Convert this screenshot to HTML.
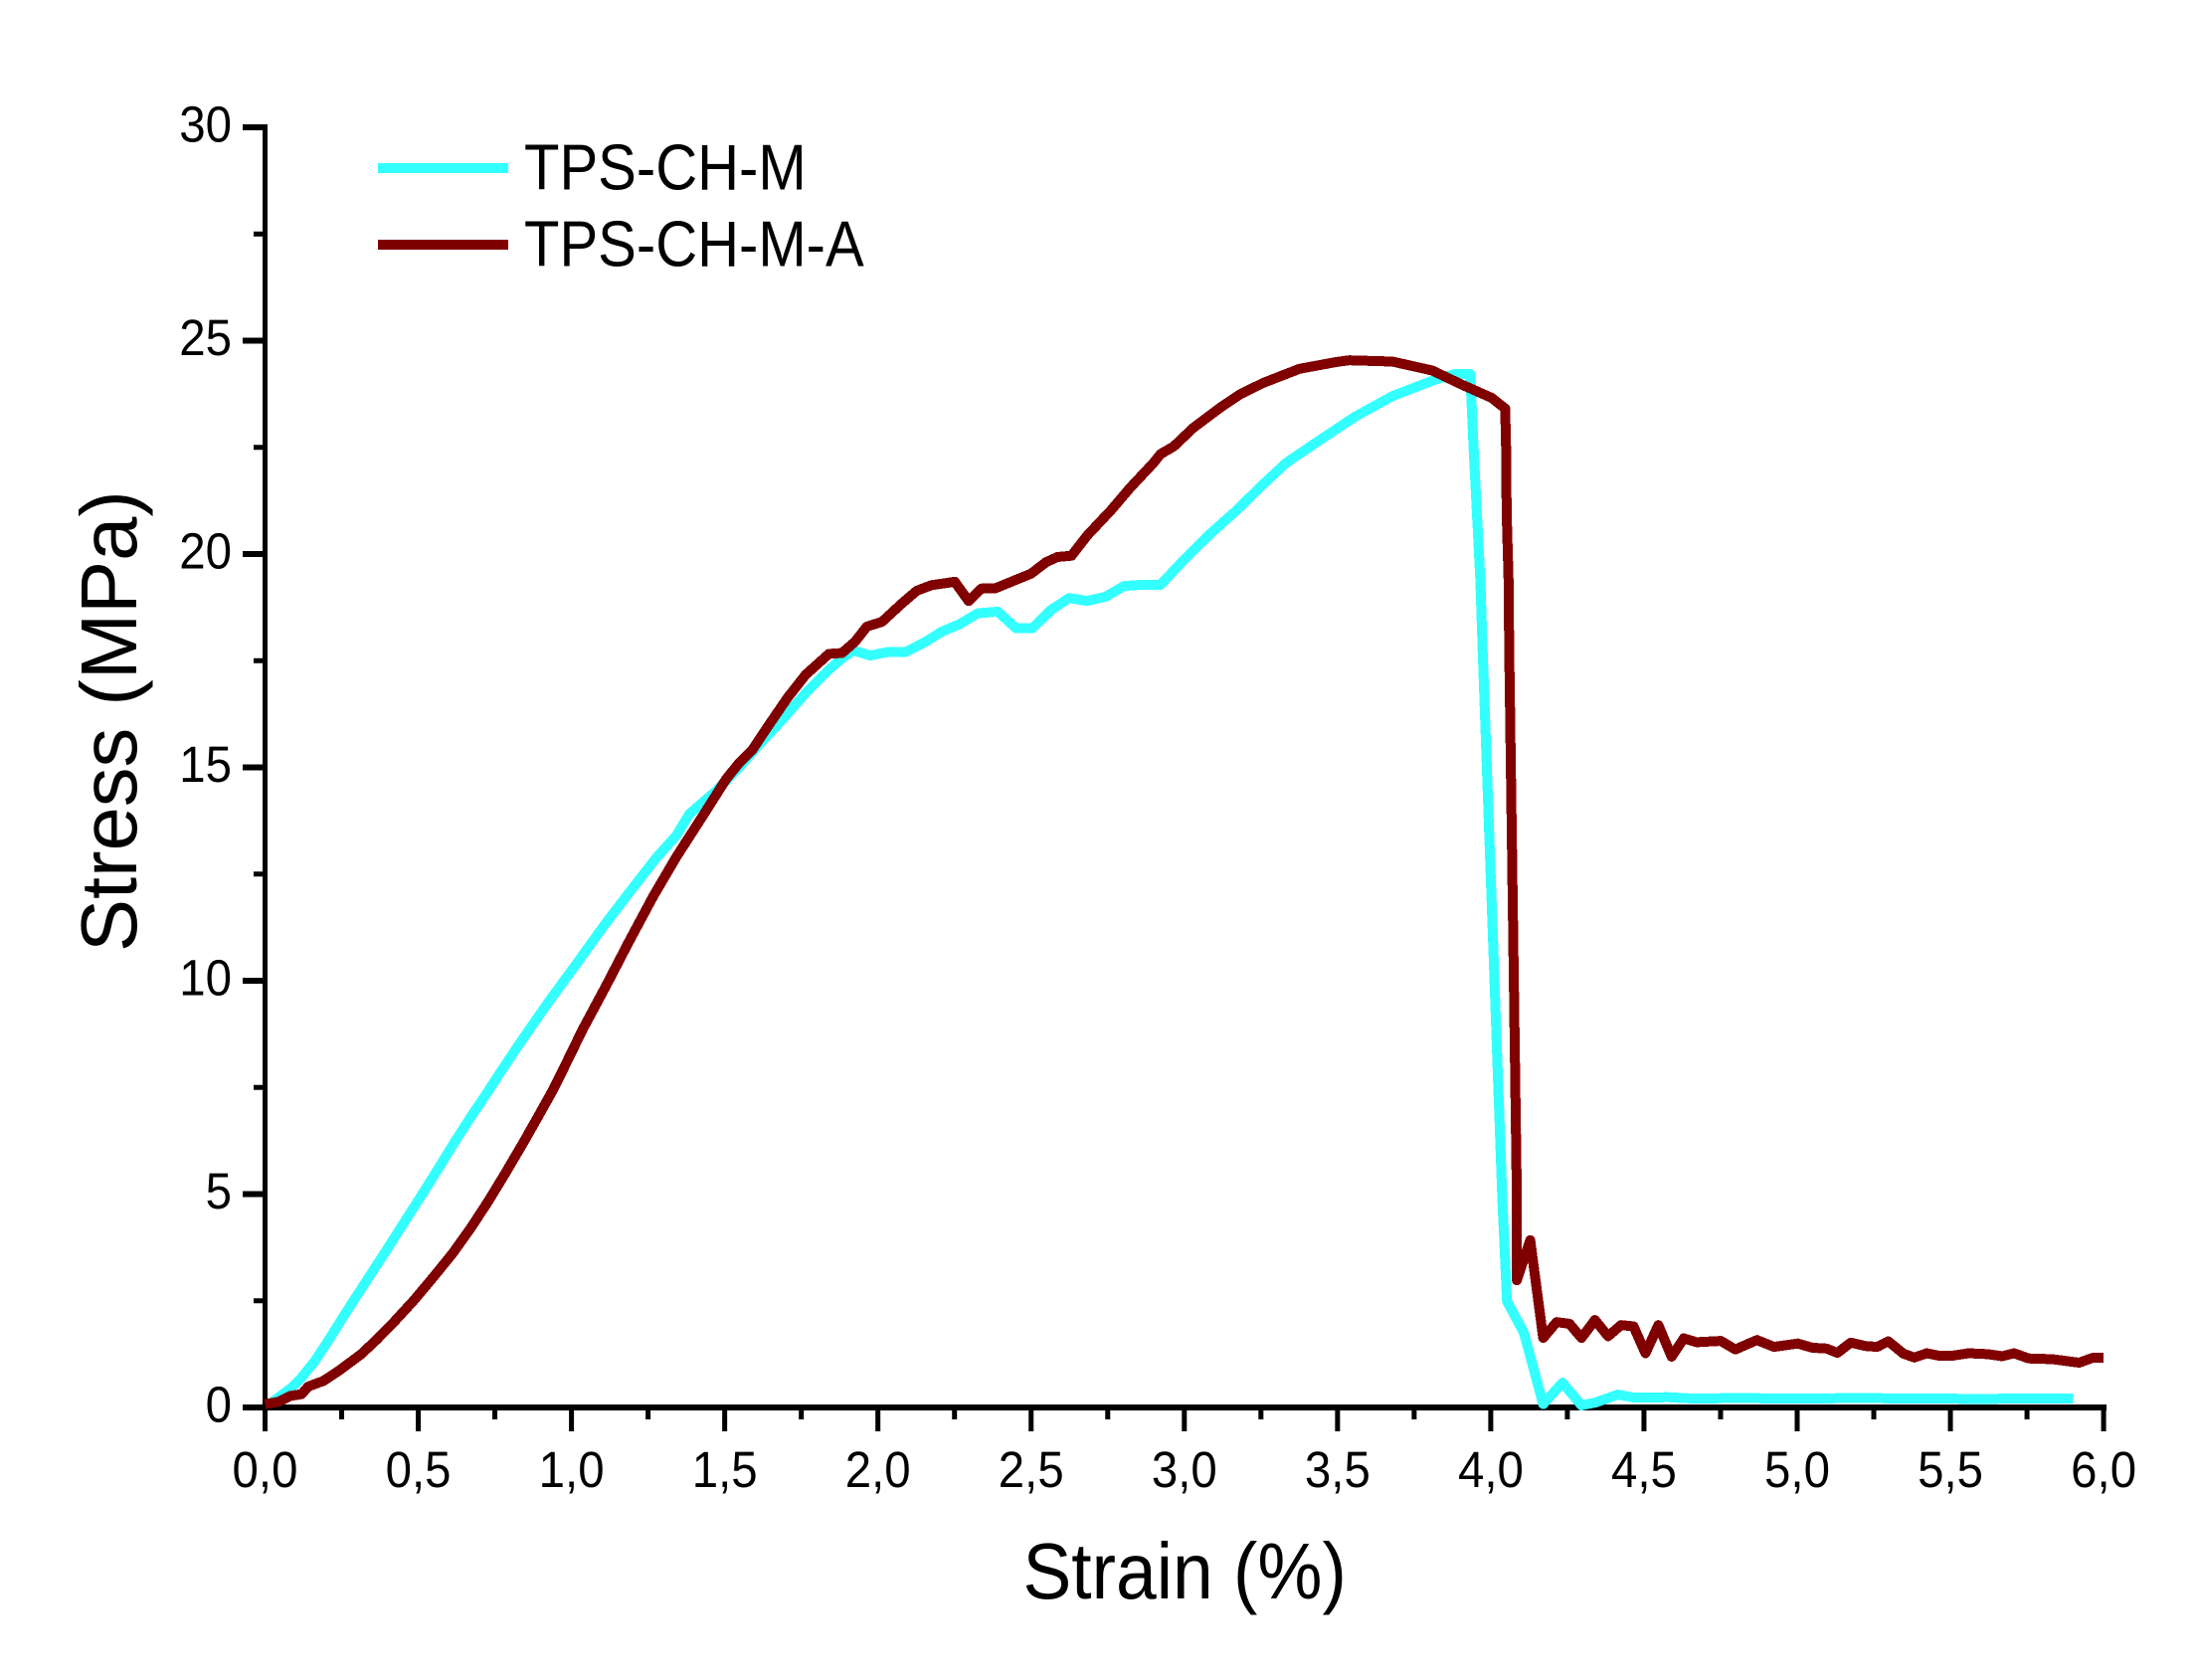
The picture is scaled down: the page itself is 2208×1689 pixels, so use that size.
<!DOCTYPE html>
<html lang="en">
<head>
<meta charset="utf-8">
<title>Stress-strain chart</title>
<style>
html,body{margin:0;padding:0;background:#fff;}
svg{display:block;}
text{font-family:"Liberation Sans",Arial,sans-serif;fill:#000;}
</style>
</head>
<body>
<svg id="chart" xmlns="http://www.w3.org/2000/svg" width="2208" height="1689" viewBox="0 0 2208 1689">
<rect x="0" y="0" width="2208" height="1689" fill="#ffffff"/>
<g id="axes"></g>
<g id="series"></g>
<text transform="translate(1028.5,1607) scale(0.915,1)" font-size="80">Strain (%)</text>
<text transform="translate(137,957) rotate(-90)" font-size="79.5">Stress (MPa)</text>
<g>
<g>
<rect x="380" y="164" width="131" height="10" fill="#33ffff"/>
<text transform="translate(527,190.5) scale(0.893,1)" font-size="65">TPS-CH-M</text>
</g>
<g>
<rect x="380" y="241" width="131" height="10" fill="#800000"/>
<text transform="translate(527,267.5) scale(0.893,1)" font-size="65">TPS-CH-M-A</text>
</g>
</g>
</svg>
<script>
const xMajorTicks = [0, 0.5, 1, 1.5, 2, 2.5, 3, 3.5, 4, 4.5, 5, 5.5, 6];
const xTickLabels = ["0,0","0,5","1,0","1,5","2,0","2,5","3,0","3,5","4,0","4,5","5,0","5,5","6,0"];
const xMinorTicks = [0.25, 0.75, 1.25, 1.75, 2.25, 2.75, 3.25, 3.75, 4.25, 4.75, 5.25, 5.75];
const yMajorTicks = [0, 5, 10, 15, 20, 25, 30];
const yTickLabels = ["0","5","10","15","20","25","30"];
const yMinorTicks = [2.5, 7.5, 12.5, 17.5, 22.5, 27.5];

const cyanStrain = [0.022,0.087,0.119,0.163,0.212,0.26,0.303,0.352,0.401,0.455,0.509,0.563,0.617,0.671,0.725,0.774,0.833,0.893,0.931,1.018,1.104,1.19,1.277,1.342,1.385,1.472,1.542,1.613,1.688,1.764,1.84,1.883,1.921,1.975,2.029,2.089,2.153,2.208,2.267,2.326,2.391,2.451,2.505,2.565,2.624,2.683,2.743,2.803,2.862,2.922,2.997,3.084,3.17,3.246,3.333,3.43,3.56,3.679,3.82,3.885,3.933,3.944,3.955,3.966,3.973,3.995,4.037,4.053,4.108,4.171,4.234,4.296,4.343,4.414,4.469,4.578,4.656,4.8,5.0,5.2,5.4,5.6,5.75,5.9];
const cyanStress = [0.117,0.466,0.70,1.09,1.63,2.18,2.66,3.2,3.74,4.35,4.95,5.57,6.2,6.8,7.38,7.92,8.55,9.17,9.56,10.41,11.27,12.08,12.88,13.4,13.91,14.45,14.96,15.54,16.12,16.74,17.29,17.56,17.74,17.62,17.70,17.70,17.93,18.18,18.36,18.61,18.65,18.26,18.26,18.69,18.97,18.90,19.0,19.25,19.28,19.28,19.85,20.47,21.02,21.56,22.14,22.61,23.23,23.70,24.09,24.22,24.22,22.49,20.94,19.39,17.83,13.4,5.01,2.49,1.75,0.08,0.58,0.05,0.12,0.3,0.23,0.24,0.21,0.22,0.21,0.22,0.21,0.2,0.21,0.21];

const maroonStrain = [0,0.044,0.082,0.119,0.141,0.19,0.239,0.314,0.363,0.423,0.487,0.552,0.612,0.671,0.731,0.785,0.844,0.893,0.942,0.985,1.036,1.115,1.185,1.266,1.342,1.429,1.504,1.548,1.591,1.645,1.705,1.764,1.84,1.883,1.926,1.964,2.013,2.078,2.127,2.175,2.251,2.296,2.338,2.381,2.435,2.5,2.549,2.586,2.632,2.684,2.76,2.824,2.9,2.922,2.965,3.03,3.117,3.181,3.257,3.376,3.495,3.538,3.679,3.809,3.906,4.003,4.047,4.05,4.052,4.058,4.06,4.085,4.085,4.129,4.171,4.215,4.257,4.296,4.34,4.383,4.425,4.466,4.505,4.547,4.59,4.63,4.672,4.751,4.798,4.869,4.924,5.002,5.049,5.096,5.131,5.175,5.222,5.261,5.297,5.347,5.382,5.423,5.465,5.504,5.559,5.622,5.669,5.708,5.755,5.834,5.92,5.967,6.0];
const maroonStress = [0.08,0.13,0.27,0.31,0.49,0.62,0.85,1.25,1.58,2.02,2.52,3.08,3.61,4.2,4.86,5.5,6.22,6.84,7.47,8.1,8.85,9.91,10.88,11.97,12.9,13.87,14.72,15.11,15.42,16.0,16.63,17.17,17.66,17.68,17.95,18.3,18.41,18.84,19.14,19.27,19.35,18.9,19.19,19.19,19.35,19.54,19.81,19.93,19.96,20.44,21.02,21.56,22.14,22.34,22.52,22.96,23.43,23.74,24.01,24.34,24.5,24.54,24.51,24.30,23.97,23.66,23.41,22.49,20.94,19.39,17.83,5.01,2.98,3.92,1.63,2.0,1.96,1.63,2.05,1.67,1.93,1.9,1.27,1.93,1.19,1.62,1.53,1.56,1.36,1.58,1.42,1.5,1.4,1.38,1.28,1.52,1.44,1.42,1.55,1.26,1.17,1.27,1.21,1.21,1.27,1.25,1.2,1.27,1.15,1.13,1.05,1.17,1.17];

const NS = 'http://www.w3.org/2000/svg';
function xScale(v){ return 266.5 + 308.1 * v; }
function yScale(v){ return 1415 - 42.9 * v; }
const axes = document.getElementById('axes');
const series = document.getElementById('series');

function make(tag, parent, attrs){
  const el = document.createElementNS(NS, tag);
  for (const k in attrs) el.setAttribute(k, attrs[k]);
  parent.appendChild(el);
  return el;
}

const yAxisLine = make('rect', axes, {x: xScale(0)-2.5, y: yScale(30)-3, width: 5, height: yScale(0)-yScale(30)+6, fill:'#000'});


const xAxisLine = make('rect', axes, {x: xScale(0)-22, y: yScale(0)-3, width: xScale(6)-xScale(0)+25, height: 6, fill:'#000'});



xMajorTicks.forEach(function(v, i){
  const t = make('rect', axes, {x: xScale(v)-2.5, y: yScale(0), width: 5, height: 24, fill:'#000'});
  
  
  const l = make('text', axes, {transform:'translate(' + xScale(v) + ',1495) scale(0.93,1)', 'font-size':51, 'text-anchor':'middle'});
  l.textContent = xTickLabels[i];
  
  
});
xMinorTicks.forEach(function(v){
  const t = make('rect', axes, {x: xScale(v)-2.5, y: yScale(0), width: 5, height: 12, fill:'#000'});
  
  
});
yMajorTicks.forEach(function(v, i){
  const t = make('rect', axes, {x: 244, y: yScale(v)-3, width: 22, height: 6, fill:'#000'});
  
  
  const l = make('text', axes, {transform:'translate(233,' + (yScale(v)+14.5) + ') scale(0.93,1)', 'font-size':51, 'text-anchor':'end'});
  l.textContent = yTickLabels[i];
  
  
});
yMinorTicks.forEach(function(v){
  const t = make('rect', axes, {x: 255, y: yScale(v)-2.5, width: 11, height: 5, fill:'#000'});
  
  
});

function pointsOf(xs, ys){
  return xs.map(function(x, i){ return xScale(x).toFixed(1) + ',' + yScale(ys[i]).toFixed(1); }).join(' ');
}
const cyanLine = make('polyline', series, {points: pointsOf(cyanStrain, cyanStress), fill:'none', stroke:'#33ffff', 'stroke-width':10, 'stroke-linejoin':'round', 'shape-rendering':'crispEdges'});


const maroonLine = make('polyline', series, {points: pointsOf(maroonStrain, maroonStress), fill:'none', stroke:'#800000', 'stroke-width':10, 'stroke-linejoin':'round', 'shape-rendering':'crispEdges'});


</script>
</body>
</html>
